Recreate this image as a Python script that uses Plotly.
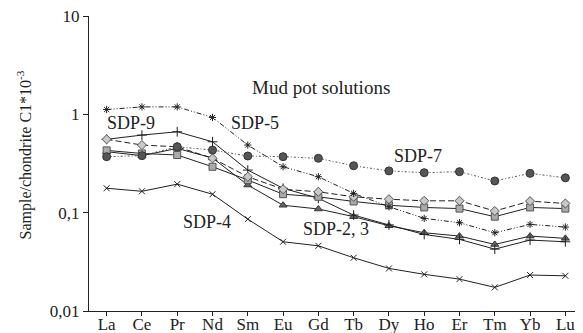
import plotly.graph_objects as go

elements = ["La", "Ce", "Pr", "Nd", "Sm", "Eu", "Gd", "Tb", "Dy", "Ho", "Er", "Tm", "Yb", "Lu"]

sdp5_star = [1.12, 1.19, 1.19, 0.93, 0.487, 0.293, 0.232, 0.157, 0.115, 0.0875, 0.079, 0.0625, 0.076, 0.0714]
plus_series = [0.557, 0.615, 0.665, 0.526, 0.271, 0.177, 0.14, 0.0945, 0.075, 0.060, 0.0535, 0.0426, 0.0526, 0.0506]
diamond_series = [0.557, 0.487, 0.468, 0.357, 0.232, 0.173, 0.163, 0.145, 0.137, 0.132, 0.132, 0.104, 0.131, 0.124]
sdp7_circle = [0.371, 0.38, 0.468, 0.433, 0.377, 0.371, 0.357, 0.30, 0.266, 0.255, 0.261, 0.21, 0.251, 0.226]
square_series = [0.43, 0.40, 0.386, 0.293, 0.215, 0.154, 0.145, 0.130, 0.119, 0.113, 0.110, 0.091, 0.113, 0.110]
triangle_series = [0.417, 0.38, 0.45, 0.36, 0.191, 0.119, 0.109, 0.0911, 0.0736, 0.0625, 0.0578, 0.0475, 0.0578, 0.0548]
sdp4_x = [0.177, 0.165, 0.195, 0.154, 0.086, 0.0506, 0.046, 0.0348, 0.0271, 0.0236, 0.0211, 0.0174, 0.0232, 0.0228]

ytick_vals = [0.01, 0.1, 1, 10]
ytick_text = ["0,01", "0,1", "1", "10"]

FONT = "Liberation Serif, Times New Roman, serif"

fig = go.Figure()

def add(y, symbol, fill, dash, lcolor="#222", size=7, mline="#333", lw=1):
    fig.add_trace(go.Scatter(
        x=elements, y=y, mode="lines+markers",
        line=dict(color=lcolor, width=lw, dash=dash),
        marker=dict(symbol=symbol, size=size, color=fill, line=dict(color=mline, width=1)),
        showlegend=False))

add(sdp4_x, "x-thin-open", "#222", "solid", size=6, mline="#222")
add(triangle_series, "triangle-up", "#666", "solid", size=7)
add(plus_series, "cross-thin-open", "#222", "solid", size=7, mline="#222")
add(square_series, "square", "#aaa", "solid", size=7, mline="#555")
add(diamond_series, "diamond", "#c8c8c8", "6px,3px", size=7, mline="#555")
add(sdp5_star, "asterisk-open", "#222", "5px,2px,1px,2px,1px,2px", size=6, mline="#222")
add(sdp7_circle, "circle", "#555", "2px,2px,1px,2px", lcolor="#555", size=8, mline="#333")

annots = [
    ("Mud pot solutions", 0.4696, 0.759, 19),
    ("SDP-9", 0.085, 0.637, 18),
    ("SDP-5", 0.336, 0.637, 18),
    ("SDP-7", 0.666, 0.525, 18),
    ("SDP-4", 0.239, 0.302, 18),
    ("SDP-2, 3", 0.50, 0.278, 18),
]
for t, x, y, s in annots:
    fig.add_annotation(text=t, x=x, y=y, xref="paper", yref="paper", showarrow=False,
                       font=dict(family=FONT, size=s, color="#222"), xanchor="center", yanchor="middle")

fig.add_annotation(text="Sample/chondrite C1*10<sup>-3</sup>", x=-0.13, y=0.53, xref="paper", yref="paper",
                   showarrow=False, textangle=-90, font=dict(family=FONT, size=16, color="#222"),
                   xanchor="center", yanchor="middle")

fig.update_layout(
    width=575, height=325,
    margin=dict(l=81, r=0, t=8, b=22),
    paper_bgcolor="white", plot_bgcolor="white",
    font=dict(family=FONT, size=17, color="#222"),
    xaxis=dict(type="category", range=[-0.5, 13.5], showline=True, linecolor="#222", linewidth=1,
               ticks="outside", ticklen=4, tickcolor="#222", showgrid=False, zeroline=False,
               automargin=False, ticklabelstandoff=-6, ticklabeloverflow="allow",
               tickfont=dict(family=FONT, size=17, color="#222")),
    yaxis=dict(type="log", range=[-2, 1], showline=True, linecolor="#222", linewidth=1,
               ticks="outside", ticklen=5, tickcolor="#222", showgrid=False, zeroline=False,
               automargin=False, ticklabeloverflow="allow",
               tickvals=ytick_vals, ticktext=ytick_text,
               tickfont=dict(family=FONT, size=17, color="#222")),
)

fig.write_html("out.html")
